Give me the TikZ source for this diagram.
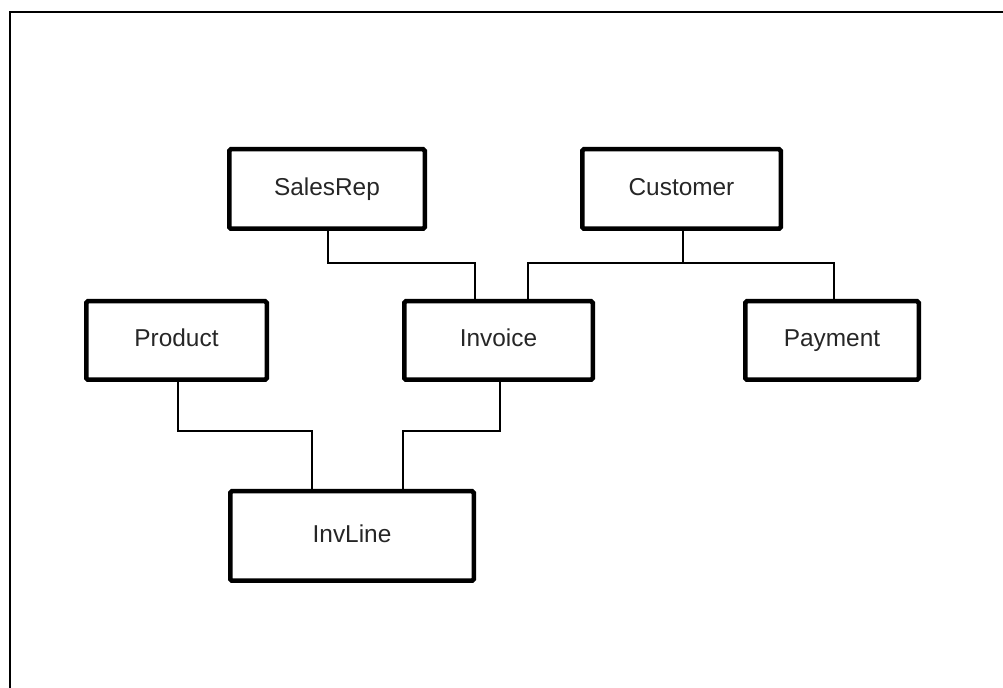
\documentclass[tikz,border=0pt]{standalone}
\usepackage{fontspec}
\setmainfont{Liberation Sans}
\usepackage{tikz}
\usetikzlibrary{positioning}

\begin{document}
\begin{tikzpicture}[
        x=0.5pt, y=-0.5pt,
        entity/.style={draw, line width=2.25pt, rounded corners=0.8pt,
            inner sep=0pt, text height=1.6ex, text depth=0.45ex,
            text=black!85, font=\fontsize{12.2}{14}\selectfont},
        link/.style={draw, line width=0.75pt}
    ]

    \useasboundingbox (0,0) rectangle (1003,688);
    % outer frame
    \draw[line width=1.3pt] (10,12) rectangle (1030,720);

    % Top row
    \node[entity, minimum width=97.75pt, minimum height=39.75pt] (salesrep) at (327,189) {SalesRep};
    \node[entity, minimum width=99.25pt, minimum height=39.75pt] (customer) at (681.5,189) {Customer};

    % Middle row
    \node[entity, minimum width=90.25pt, minimum height=39.25pt] (product) at (176.5,340.5) {Product};
    \node[entity, minimum width=94.25pt, minimum height=39.25pt] (invoice) at (498.5,340.5) {Invoice};
    \node[entity, minimum width=86.75pt, minimum height=39.25pt] (payment) at (832,340.5) {Payment};

    % Bottom row
    \node[entity, minimum width=121.75pt, minimum height=44.75pt] (invline) at (352,536) {InvLine};

    % SalesRep -- Invoice
    \draw[link] ([xshift=0.5pt]salesrep.south) |- (475,263) -- ([xshift=-11.75pt]invoice.north);
    % Customer -- Invoice, Customer -- Payment
    \draw[link] ([xshift=0.75pt]customer.south) -- (683,263);
    \draw[link] ([xshift=14.75pt]invoice.north) |- (683,263) -| ([xshift=1pt]payment.north);

    % Product -- InvLine
    \draw[link] ([xshift=0.75pt]product.south) |- (312,431) -- ([xshift=-20pt]invline.north);
    % Invoice -- InvLine
    \draw[link] ([xshift=0.75pt]invoice.south) |- (403,431) -- ([xshift=25.5pt]invline.north);

\end{tikzpicture}
\end{document}
